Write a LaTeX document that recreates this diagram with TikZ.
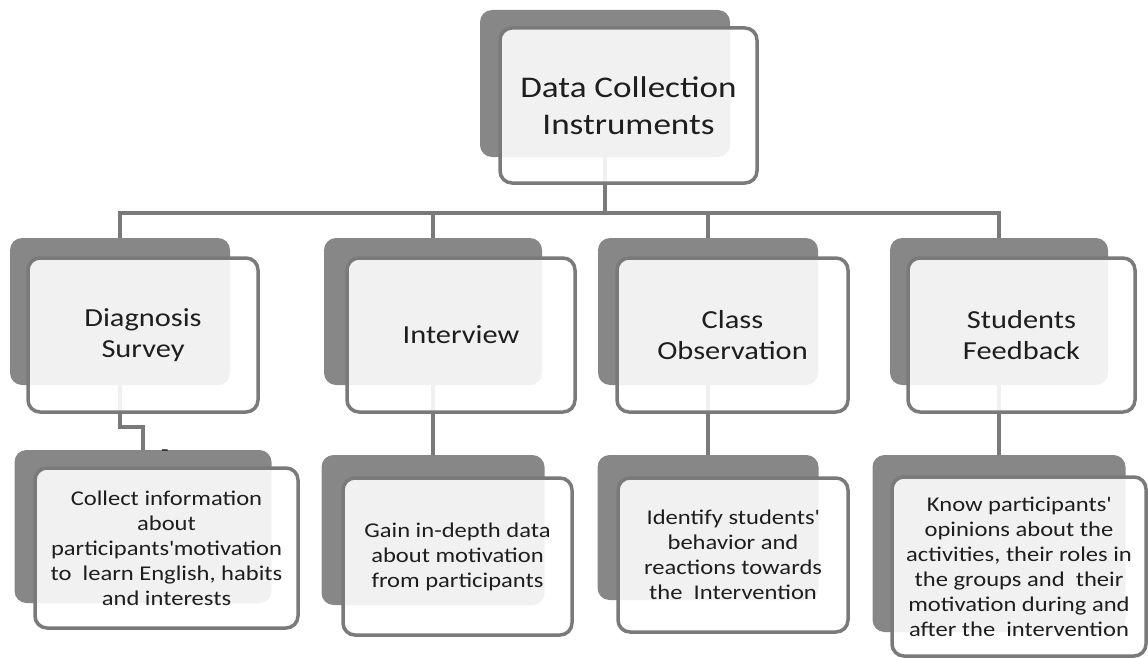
\documentclass[tikz,border=0pt]{standalone}
\usepackage{fontspec}
\setmainfont{Carlito}[FakeStretch=1.17]
\definecolor{boxgray}{HTML}{878787}
\definecolor{rimgray}{HTML}{7A7A7A}
\definecolor{inkgray}{HTML}{1E1E1E}

\begin{document}
\begin{tikzpicture}[
    x = 1pt,
    y = -1pt,
    back/.style = {
      fill = boxgray,
      rounded corners = 12pt,
      inner sep = 0pt
    },
    front/.style = {
      draw = rimgray,
      line width = 3.5pt,
      fill = white,
      fill opacity = 0.89,
      text opacity = 1,
      text = inkgray,
      rounded corners = 12pt,
      inner sep = 0pt,
      align = center
    },
    link/.style = {
      draw = rimgray,
      line width = 4pt
    },
    titletext/.style = {font = \fontsize{30}{37}\selectfont},
    headtext/.style = {font = \fontsize{26}{31}\selectfont},
    infotext/.style = {font = \fontsize{21}{25}\selectfont}
  ]
  \useasboundingbox (0,0) rectangle (1148,658);

  \node[back, minimum width=250pt, minimum height=147pt] (topback) at (605,83.5) {};

  \node[back, minimum width=220pt, minimum height=147pt] (diagback) at (120,311.5) {};
  \node[back, minimum width=218pt, minimum height=147pt] (intback) at (433,311.5) {};
  \node[back, minimum width=220pt, minimum height=147pt] (classback) at (708,311.5) {};
  \node[back, minimum width=218pt, minimum height=147pt] (sfback) at (999,311.5) {};

  \node[back, minimum width=257pt, minimum height=153pt] (diaginfoback) at (143,526.5) {};
  \node[back, minimum width=223pt, minimum height=150pt] (intinfoback) at (433,530) {};
  \node[back, minimum width=221pt, minimum height=145pt] (classinfoback) at (708,527.5) {};
  \node[back, minimum width=253pt, minimum height=177pt] (sfinfoback) at (999,543.5) {};

  \node[infotext, text=inkgray] (dash) at (165,453) {-};

  \scope[]
    \coordinate (bus) at (605,213);
    \coordinate (jog) at (120,427);
    \draw[link] (topback.south) -- (bus);
    \draw[link] (diagback.north) |- (bus) -| (sfback.north);
    \draw[link] (intback.north) -- (intback.north |- bus);
    \draw[link] (classback.north) -- (classback.north |- bus);

    \draw[link] (diagback.south) -- (jog) -| (diaginfoback.north);
    \draw[link] (intback.south) -- (intinfoback.north);
    \draw[link] (classback.south) -- (classinfoback.north);
    \draw[link] (sfback.south) -- (sfinfoback.north);
  \endscope

  \node[front, titletext, minimum width=257pt, minimum height=155pt] (top) at (628.5,105.5) {Data Collection\\Instruments};

  \node[front, headtext, minimum width=230pt, minimum height=154pt] (diag) at (143,335) {Diagnosis\\Survey};
  \node[front, headtext, minimum width=228pt, minimum height=154pt] (int) at (461,335) {Interview};
  \node[front, headtext, minimum width=231pt, minimum height=154pt] (class) at (732.5,335) {Class\\Observation};
  \node[front, headtext, minimum width=227pt, minimum height=154pt] (sf) at (1021.5,335) {Students\\Feedback};

  \node[front, infotext, minimum width=263pt, minimum height=160pt] (diaginfo) at (166.5,548)
    {Collect information\\about\\participants\textquotesingle motivation\\to\ \ learn English, habits\\and interests};
  \node[front, infotext, minimum width=229pt, minimum height=157pt] (intinfo) at (457.5,556.5)
    {Gain in-depth data\\about motivation\\from participants};
  \node[front, infotext, minimum width=230pt, minimum height=154pt] (classinfo) at (733,555)
    {Identify students\textquotesingle\\behavior and\\reactions towards\\the\ \ Intervention};
  \node[front, infotext, minimum width=254pt, minimum height=179pt] (sfinfo) at (1019,566.5)
    {Know participants\textquotesingle\\opinions about the\\activities, their roles in\\the groups and\ \ their\\motivation during and\\after the\ \ intervention};
\end{tikzpicture}
\end{document}
